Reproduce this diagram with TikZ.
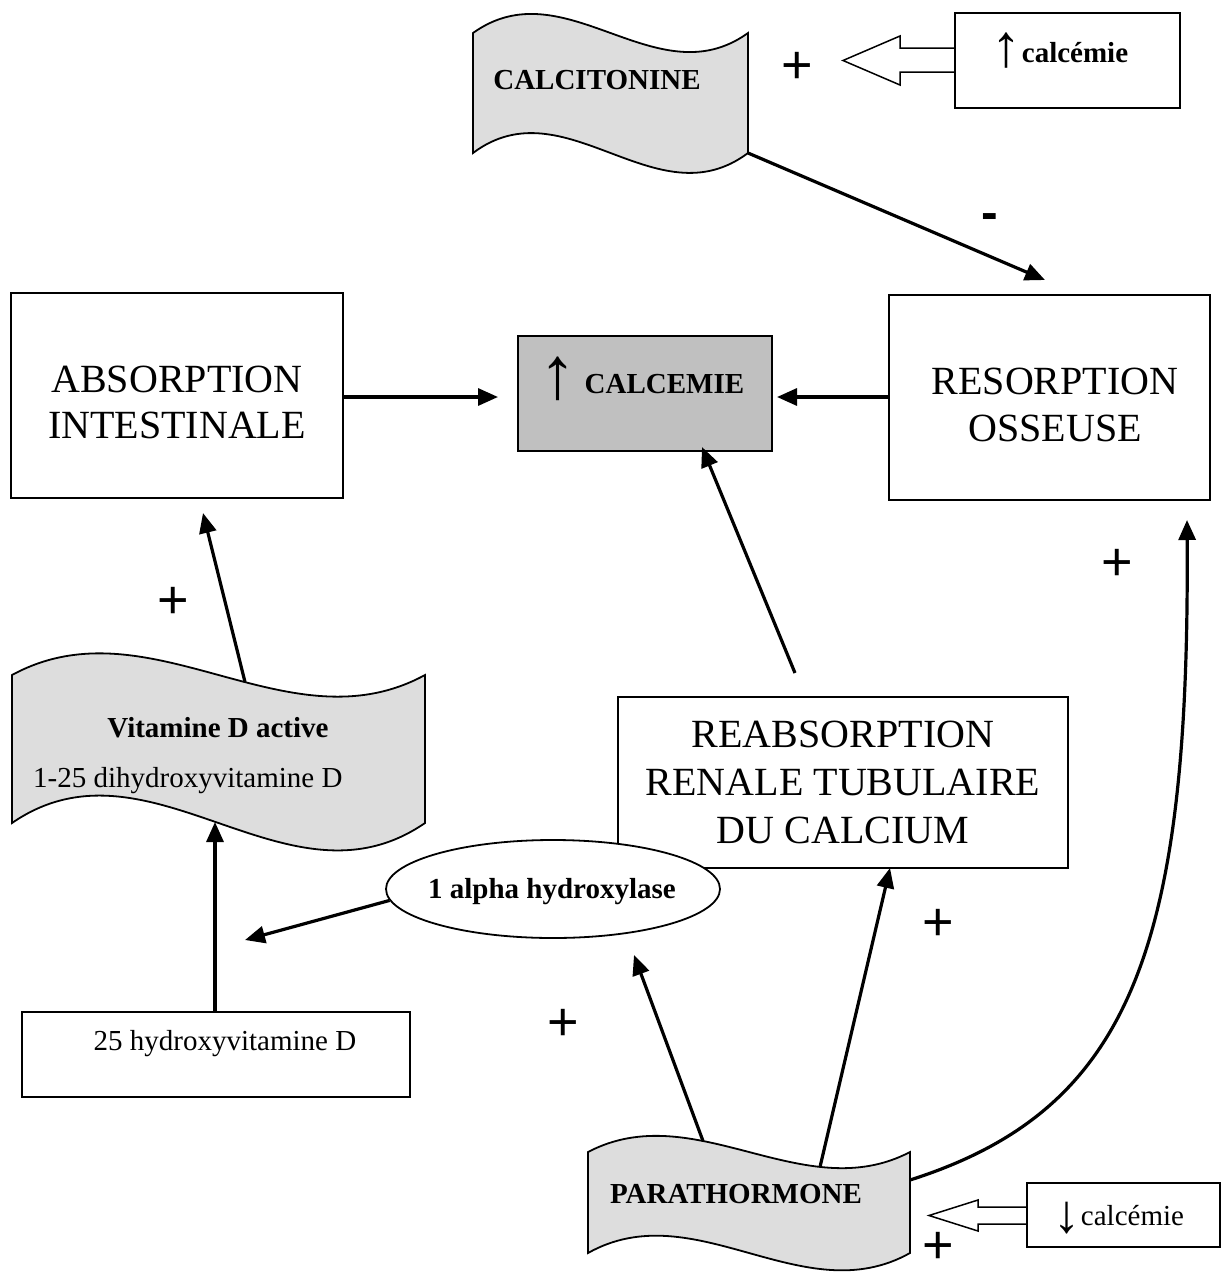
\documentclass[tikz,border=0pt]{standalone}
\usepackage{fontspec}
\setmainfont{Liberation Serif}
\newfontfamily\sansf{Liberation Sans}
\usetikzlibrary{arrows.meta,shapes.geometric}
\definecolor{waveg}{HTML}{DDDDDD}
\definecolor{calcg}{HTML}{C0C0C0}
% #1 font size, #2 lowering, #3 glyph
\newcommand{\bigarrowglyph}[3]{\raisebox{-#2}{\fontsize{#1}{#1}\selectfont\mdseries #3}}
\begin{document}
\begin{tikzpicture}[x=1pt,y=-1pt,
  box/.style={draw, line width=1.8pt, inner sep=0pt, rectangle},
  wave/.style={draw, line width=1.8pt, fill=waveg, line join=miter},
  conn/.style={line width=3.2pt, -{Triangle[length=20pt,width=17pt]}},
  bigtxt/.style={font=\fontsize{40}{47}\selectfont, anchor=base, inner sep=0pt},
  smalltxt/.style={font=\fontsize{29}{34}\selectfont, anchor=base, inner sep=0pt},
  boldtxt/.style={font=\fontsize{29}{34}\selectfont\bfseries, anchor=base, inner sep=0pt},
  sign/.style={font=\sansf\fontsize{54}{60}\selectfont, inner sep=0pt},
  hollow/.style={draw, line width=1.5pt, fill=white, line join=miter}
]
\useasboundingbox (0,0) rectangle (1222,1272);

% wave shapes
\draw[wave] (473,33) .. controls (565,-33) and (656,99) .. (748,33) -- (748,153) .. controls (656,222) and (565,84) .. (473,153) -- cycle;
\draw[wave] (12,675) .. controls (150,600) and (287,750) .. (425,675) -- (425,823) .. controls (287,918) and (150,728) .. (12,823) -- cycle;
\draw[wave] (588,1152) .. controls (695,1096) and (803,1208) .. (910,1152) -- (910,1253) .. controls (803,1313) and (695,1193) .. (588,1253) -- cycle;

% hollow block arrows
\draw[hollow] (955,48) -- (900,48) -- (900,36) -- (843,60.5) -- (900,85) -- (900,72) -- (955,72);
\draw[hollow] (1027,1207) -- (978,1207) -- (978,1200) -- (929,1215.5) -- (978,1231) -- (978,1224) -- (1027,1224);

% boxes
\node[box, minimum width=332pt, minimum height=205pt] (abs) at (177,395.5) {};
\node[box, fill=calcg, minimum width=254pt, minimum height=115pt] (calc) at (645,393.5) {};
\node[box, minimum width=321pt, minimum height=205pt] (reso) at (1049.5,397.5) {};
\node[box, minimum width=450pt, minimum height=171pt] (reab) at (843,782.5) {};
\node[box, minimum width=388pt, minimum height=85pt] (hyd) at (216,1054.5) {};
\node[box, fill=white, minimum width=225pt, minimum height=95pt] (upbox) at (1067.5,60.5) {};
\node[box, fill=white, minimum width=193pt, minimum height=64pt] (downbox) at (1123.5,1215) {};
\node[draw, ellipse, line width=1.8pt, fill=white, minimum width=334pt, minimum height=98pt, inner sep=0pt] (alpha) at (553,889) {};

% texts
\node[bigtxt] (tabs1) at (177,392) {ABSORPTION};
\node[bigtxt] (tabs2) at (177,438) {INTESTINALE};
\node[bigtxt] (tres1) at (1055,394) {RESORPTION};
\node[bigtxt] (tres2) at (1055,441) {OSSEUSE};
\node[bigtxt] (trea1) at (843,747) {REABSORPTION};
\node[bigtxt] (trea2) at (843,795) {RENALE TUBULAIRE};
\node[bigtxt] (trea3) at (843,843) {DU CALCIUM};
\node[anchor=base, inner sep=0pt] (tcalc) at (642,393) {\bigarrowglyph{74}{5pt}{↑}\hspace{8pt}{\fontsize{29}{34}\selectfont\bfseries CALCEMIE}};
\node[boldtxt] (tcalcit) at (597,89) {CALCITONINE};
\node[anchor=base, inner sep=0pt] (tup) at (1060,62) {\bigarrowglyph{60}{4pt}{↑}{\fontsize{29}{34}\selectfont\bfseries calcémie}};
\node[anchor=base, inner sep=0pt] (tdown) at (1119,1225) {\bigarrowglyph{54}{7pt}{↓}{\fontsize{29}{34}\selectfont calcémie}};
\node[boldtxt] (tpth) at (736,1203) {PARATHORMONE};
\node[boldtxt] (tvit1) at (218,737) {Vitamine D active};
\node[smalltxt, anchor=base west] (tvit2) at (33,787) {1-25 dihydroxyvitamine D};
\node[smalltxt] (thyd) at (225,1050) {25 hydroxyvitamine D};
\node[boldtxt] (talpha) at (552,898) {1 alpha hydroxylase};

% signs
\node[sign] (s1) at (797,68) {+};
\node[sign] (s2) at (173,603) {+};
\node[sign] (s3) at (1117,565) {+};
\node[sign] (s4) at (938,925) {+};
\node[sign] (s5) at (563,1025) {+};
\node[sign] (s6) at (938,1248) {+};
\node[sign, font=\sansf\bfseries\fontsize{50}{56}\selectfont] (s7) at (990,222) {-};

% connector end points
\coordinate (calcitBR) at (748,153);
\coordinate (resoInT) at (1045,280);
\coordinate (calcInL) at (498,397);
\coordinate (calcInR) at (777,397);
\coordinate (reabTop) at (795,673);
\coordinate (calcInB) at (702,447);
\coordinate (vitDTop) at (245,682);
\coordinate (absInB) at (203,513);
\coordinate (vitDBot) at (215,822);
\coordinate (alphaOut) at (245,940);
\coordinate (pthTopA) at (703,1141);
\coordinate (alphaIn) at (634,955);
\coordinate (pthTopB) at (820,1167);
\coordinate (reabIn) at (890,868);
\coordinate (pthRight) at (910,1180);
\coordinate (resoInB) at (1187,520);

% connectors
\draw[conn] (calcitBR) -- (resoInT);
\draw[conn] (abs.east |- calcInL) -- (calcInL);
\draw[conn] (reso.west |- calcInR) -- (calcInR);
\draw[conn] (reabTop) -- (calcInB);
\draw[conn] (vitDTop) -- (absInB);
\draw[conn] (hyd.north -| vitDBot) -- (vitDBot);
\draw[conn] (alpha.184) -- (alphaOut);
\draw[conn] (pthTopA) -- (alphaIn);
\draw[conn] (pthTopB) -- (reabIn);
\draw[conn] (pthRight) .. controls (1130,1110) and (1190,950) .. (resoInB);
\end{tikzpicture}
\end{document}
